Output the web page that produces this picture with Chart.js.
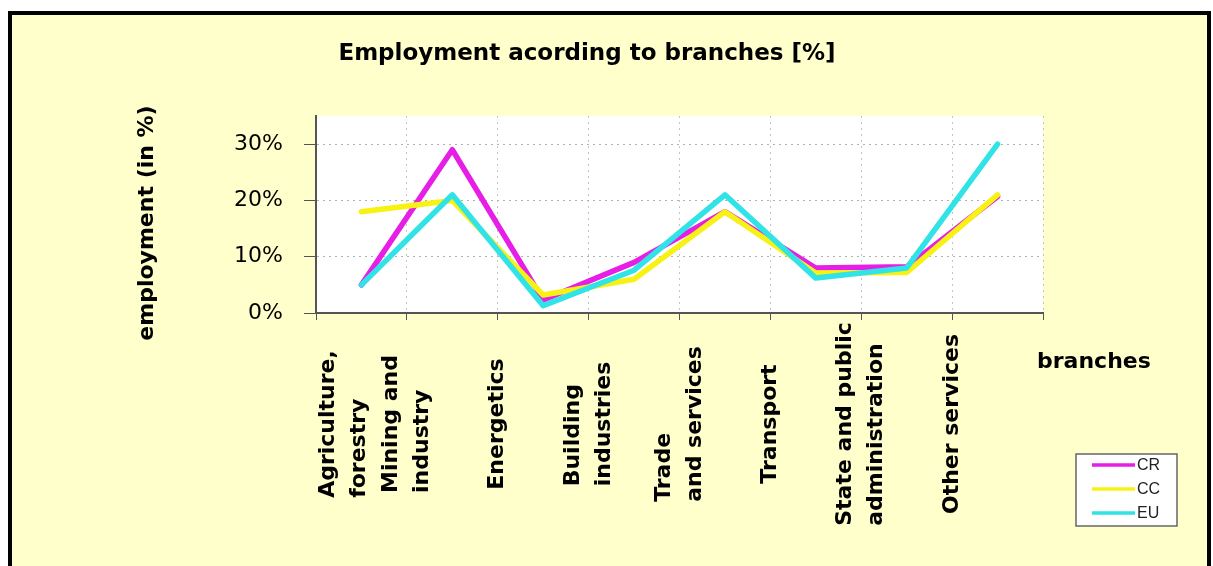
<!DOCTYPE html>
<html>
<head>
<meta charset="utf-8">
<script src="https://cdn.jsdelivr.net/npm/chart.js@4.4.0/dist/chart.umd.min.js"></script>
<style>
  html, body { margin: 0; padding: 0; background: #fff; }
  body { width: 1213px; height: 566px; position: relative; overflow: hidden; }
  #frame { position: absolute; left: 8px; top: 11px; width: 1195px; height: 600px; border: 4px solid #000; background: #FFFFCC; }
  #employmentChart { position: absolute; left: 0; top: 0; }
</style>
</head>
<body>
<div id="frame"></div>
<canvas id="employmentChart" width="1213" height="566"></canvas>
<script>
// branches, each label split into the lines it is printed on
const branches = [
  ['Agriculture,', 'forestry'],
  ['Mining and', 'industry'],
  ['Energetics'],
  ['Building', 'industries'],
  ['Trade', 'and services'],
  ['Transport'],
  ['State and public', 'administration'],
  ['Other services']
];

// share of employment per branch, in %
const crShare = [5, 29, 2.3, 9, 18, 8, 8.2, 20.7];
const ccShare = [18, 20, 3.2, 6, 18, 7.1, 7.2, 21];
const euShare = [5, 21, 1.3, 7.6, 21, 6.2, 8, 30];

// y values that get a printed label (the other 5% steps only get a tick)
const yTicks = [0, 10, 20, 30];

const FONT = '"DejaVu Sans", Verdana, sans-serif';

// white plot area on the yellow sheet
const plotBackground = {
  id: 'plotBackground',
  beforeDraw(chart) {
    const { ctx } = chart;
    const x = chart.scales.x, y = chart.scales.y;
    ctx.save();
    ctx.globalCompositeOperation = 'source-over';
    ctx.fillStyle = 'rgb(255,255,255)';
    ctx.fillRect(x.left, y.top, x.right - x.left, y.bottom - y.top);
    ctx.restore();
  }
};

// title, axis titles and the rotated branch names
const captions = {
  id: 'captions',
  afterDraw(chart) {
    const { ctx, chartArea: a, scales: { x } } = chart;
    ctx.save();
    ctx.fillStyle = '#000';

    ctx.font = 'bold 23px ' + FONT;
    ctx.textAlign = 'center';
    ctx.textBaseline = 'alphabetic';
    ctx.fillText('Employment acording to branches [%]', 587, 60);

    ctx.font = 'bold 22px ' + FONT;
    ctx.save();
    ctx.translate(153, 223);
    ctx.rotate(-Math.PI / 2);
    ctx.textAlign = 'center';
    ctx.fillText('employment (in %)', 0, 0);
    ctx.restore();

    ctx.textAlign = 'left';
    ctx.fillText('branches', 1037, 368);

    // names sit on the left boundary of their category
    const half = (x.getPixelForValue(1) - x.getPixelForValue(0)) / 2;
    const lineGap = 31;
    branches.forEach((lines, i) => {
      let cx = x.getPixelForValue(i) - half;
      const first = cx - (lines.length - 1) / 2 * lineGap;
      if (first < a.left + 12) cx += a.left + 12 - first;
      const w = Math.max(...lines.map(s => ctx.measureText(s).width));
      lines.forEach((s, j) => {
        ctx.save();
        ctx.translate(cx + (j - (lines.length - 1) / 2) * lineGap, 424 + w / 2);
        ctx.rotate(-Math.PI / 2);
        ctx.textAlign = 'left';
        ctx.textBaseline = 'middle';
        ctx.fillText(s, 0, 0);
        ctx.restore();
      });
    });
    ctx.restore();
  }
};

// small boxed legend in the lower right corner
const boxLegend = {
  id: 'boxLegend',
  afterDraw(chart) {
    const { ctx } = chart;
    ctx.save();
    ctx.fillStyle = '#fff';
    ctx.strokeStyle = '#666';
    ctx.lineWidth = 1.5;
    ctx.fillRect(1076, 454, 101, 72);
    ctx.strokeRect(1076, 454, 101, 72);
    ctx.font = '16px "Liberation Sans", Arial, sans-serif';
    ctx.textBaseline = 'middle';
    ctx.textAlign = 'left';
    chart.data.datasets.forEach((ds, i) => {
      const y = 465 + i * 24;
      ctx.strokeStyle = ds.borderColor;
      ctx.lineWidth = 3.5;
      ctx.beginPath();
      ctx.moveTo(1092, y);
      ctx.lineTo(1135, y);
      ctx.stroke();
      ctx.fillStyle = '#222';
      ctx.fillText(ds.label, 1137, y + 1);
    });
    ctx.restore();
  }
};

new Chart(document.getElementById('employmentChart'), {
  type: 'line',
  data: {
    labels: branches,
    datasets: [
      { label: 'CR', data: crShare, borderColor: '#E61EE6', order: 3 },
      { label: 'CC', data: ccShare, borderColor: '#F8F214', order: 2 },
      { label: 'EU', data: euShare, borderColor: '#30E3E6', order: 1 }
    ]
  },
  options: {
    responsive: false,
    animation: false,
    layout: { padding: { left: 0, right: 170, top: 116, bottom: 0 } },
    elements: {
      line: { borderWidth: 5.5, tension: 0, borderJoinStyle: 'round', borderCapStyle: 'round' },
      point: { radius: 0 }
    },
    plugins: {
      legend: { display: false },
      title: { display: false },
      tooltip: { enabled: false }
    },
    scales: {
      x: {
        type: 'category',
        offset: true,
        grid: { offset: true, color: '#c4c4c4', tickColor: '#555', tickLength: 7 },
        border: { color: '#555', width: 2, dash: [2, 4] },
        ticks: { display: false },
        afterFit(s) { s.height = 253; }
      },
      y: {
        min: 0,
        max: 35,
        ticks: {
          stepSize: 5,
          callback: v => yTicks.includes(v) ? v + '%' : '',
          font: { family: FONT, size: 22 },
          color: '#000',
          padding: 21
        },
        grid: {
          color: c => (c.tick && c.tick.value === 35) ? 'rgba(0,0,0,0)' : '#b0b0b0',
          tickColor: '#555',
          tickLength: 12
        },
        border: { color: '#555', width: 2, dash: [2, 4] },
        afterFit(s) { s.width = 316; }
      }
    }
  },
  plugins: [plotBackground, captions, boxLegend]
});
</script>
</body>
</html>
